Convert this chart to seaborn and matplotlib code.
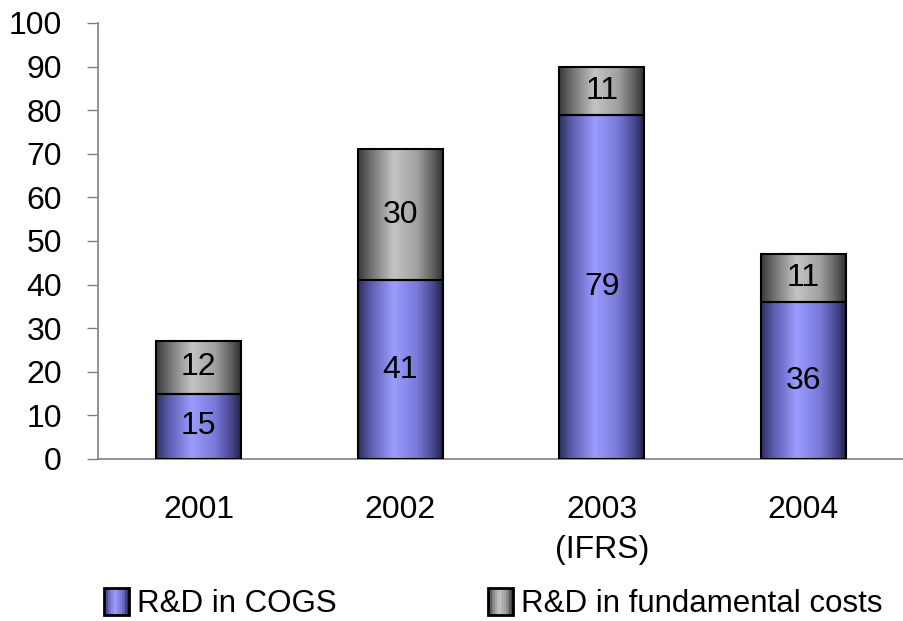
import numpy as np
import pandas as pd
import matplotlib
matplotlib.use("Agg")
import matplotlib.pyplot as plt
import seaborn as sns
from matplotlib.colors import LinearSegmentedColormap
from matplotlib.patches import Rectangle
from matplotlib.legend_handler import HandlerBase

years = ["2001", "2002", "2003\n(IFRS)", "2004"]
rd_cogs = [15, 41, 79, 36]
rd_fundamental = [12, 30, 11, 11]
series_names = ["R&D in COGS", "R&D in fundamental costs"]
yticks = list(range(0, 101, 10))

sns.set_theme(style="white")
plt.rcParams["font.family"] = ["Liberation Sans", "DejaVu Sans"]
plt.rcParams["text.color"] = "black"
plt.rcParams["xtick.color"] = "black"
plt.rcParams["ytick.color"] = "black"
FS = 23
LFS = 22.5

blue_cmap = LinearSegmentedColormap.from_list(
    "b", [(0.0, "#2e2e5c"), (0.15, "#5c5cb0"), (0.42, "#9c9cff"), (0.7, "#7878d8"), (0.9, "#44448a"), (1.0, "#222244")])
gray_cmap = LinearSegmentedColormap.from_list(
    "g", [(0.0, "#3a3a3a"), (0.15, "#707070"), (0.42, "#c4c4c4"), (0.7, "#a0a0a0"), (0.9, "#5a5a5a"), (1.0, "#303030")])

df = pd.DataFrame({"year": years, "cogs": rd_cogs, "fund": rd_fundamental})

fig = plt.figure(figsize=(9.04, 6.21), dpi=100)
ax = fig.add_axes([98 / 904, 162 / 621, 806 / 904, 436 / 621])

sns.barplot(data=df, x="year", y="cogs", order=years, color="#9999ff", width=0.42,
            edgecolor="black", linewidth=1.5, ax=ax, saturation=1)
n_first = len(ax.patches)
sns.barplot(data=df, x="year", y="fund", order=years, color="#c0c0c0", width=0.42,
            bottom=df["cogs"], edgecolor="black", linewidth=1.5, ax=ax, saturation=1)

grad = np.linspace(0, 1, 256).reshape(1, -1)
for i, p in enumerate(ax.patches):
    cmap = blue_cmap if i < n_first else gray_cmap
    x0, y0 = p.get_x(), p.get_y()
    w, h = p.get_width(), p.get_height()
    im = ax.imshow(grad, cmap=cmap, aspect="auto", extent=[x0, x0 + w, y0, y0 + h],
                   zorder=2, interpolation="bilinear")
    im.set_clip_path(p)
    p.set_facecolor("none")
    p.set_zorder(3)

for i in range(len(years)):
    ax.text(i, rd_cogs[i] / 2, str(rd_cogs[i]), ha="center", va="center", fontsize=FS, color="black", zorder=4)
    ax.text(i, rd_cogs[i] + rd_fundamental[i] / 2, str(rd_fundamental[i]), ha="center", va="center",
            fontsize=FS, color="black", zorder=4)

ax.set_xlim(-0.5, 3.5)
ax.set_ylim(0, 100)
ax.set_yticks(yticks)
ax.set_yticklabels([str(t) for t in yticks], fontsize=FS)
ax.set_xlabel("")
ax.set_ylabel("")
ax.set_xticks(range(len(years)))
ax.set_xticklabels(years, fontsize=FS, linespacing=1.45)
ax.set_xticks([-0.5, 0.5, 1.5, 2.5, 3.5], minor=True)
ax.tick_params(axis="x", which="major", length=0, pad=26)
ax.tick_params(axis="x", which="minor", length=8, width=1, color="#808080", direction="out")
ax.tick_params(axis="y", which="major", length=8, width=1, color="#808080", direction="out", pad=18, left=True)
for s in ["top", "right"]:
    ax.spines[s].set_visible(False)
for s in ["left", "bottom"]:
    ax.spines[s].set_color("#808080")
    ax.spines[s].set_linewidth(1.2)
ax.set_facecolor("white")
fig.patch.set_facecolor("white")


class GradHandler(HandlerBase):
    def __init__(self, cmap):
        super().__init__()
        self.cmap = cmap

    def create_artists(self, legend, orig_handle, xdescent, ydescent, width, height, fontsize, trans):
        arts = []
        n = 14
        w = 18
        x0 = -xdescent
        hh = 19
        y0 = -ydescent + (height - hh) / 2
        for k in range(n):
            r = Rectangle((x0 + w * k / n, y0), w / n + 0.3, hh, facecolor=self.cmap((k + 0.5) / n),
                          edgecolor="none", transform=trans)
            arts.append(r)
        arts.append(Rectangle((x0, y0), w, hh, facecolor="none", edgecolor="black", linewidth=2.0, transform=trans))
        return arts


h1 = Rectangle((0, 0), 1, 1)
h2 = Rectangle((0, 0), 1, 1)
fig.legend([h1, h2], series_names, handler_map={h1: GradHandler(blue_cmap), h2: GradHandler(gray_cmap)},
           loc="lower left", bbox_to_anchor=(102.5 / 904, 0.0), ncol=2, frameon=False, fontsize=LFS,
           handlelength=0.608, handletextpad=0.46, columnspacing=4.83, borderaxespad=0.0, borderpad=0.05)

fig.savefig("out.png", dpi=100, facecolor="white")
